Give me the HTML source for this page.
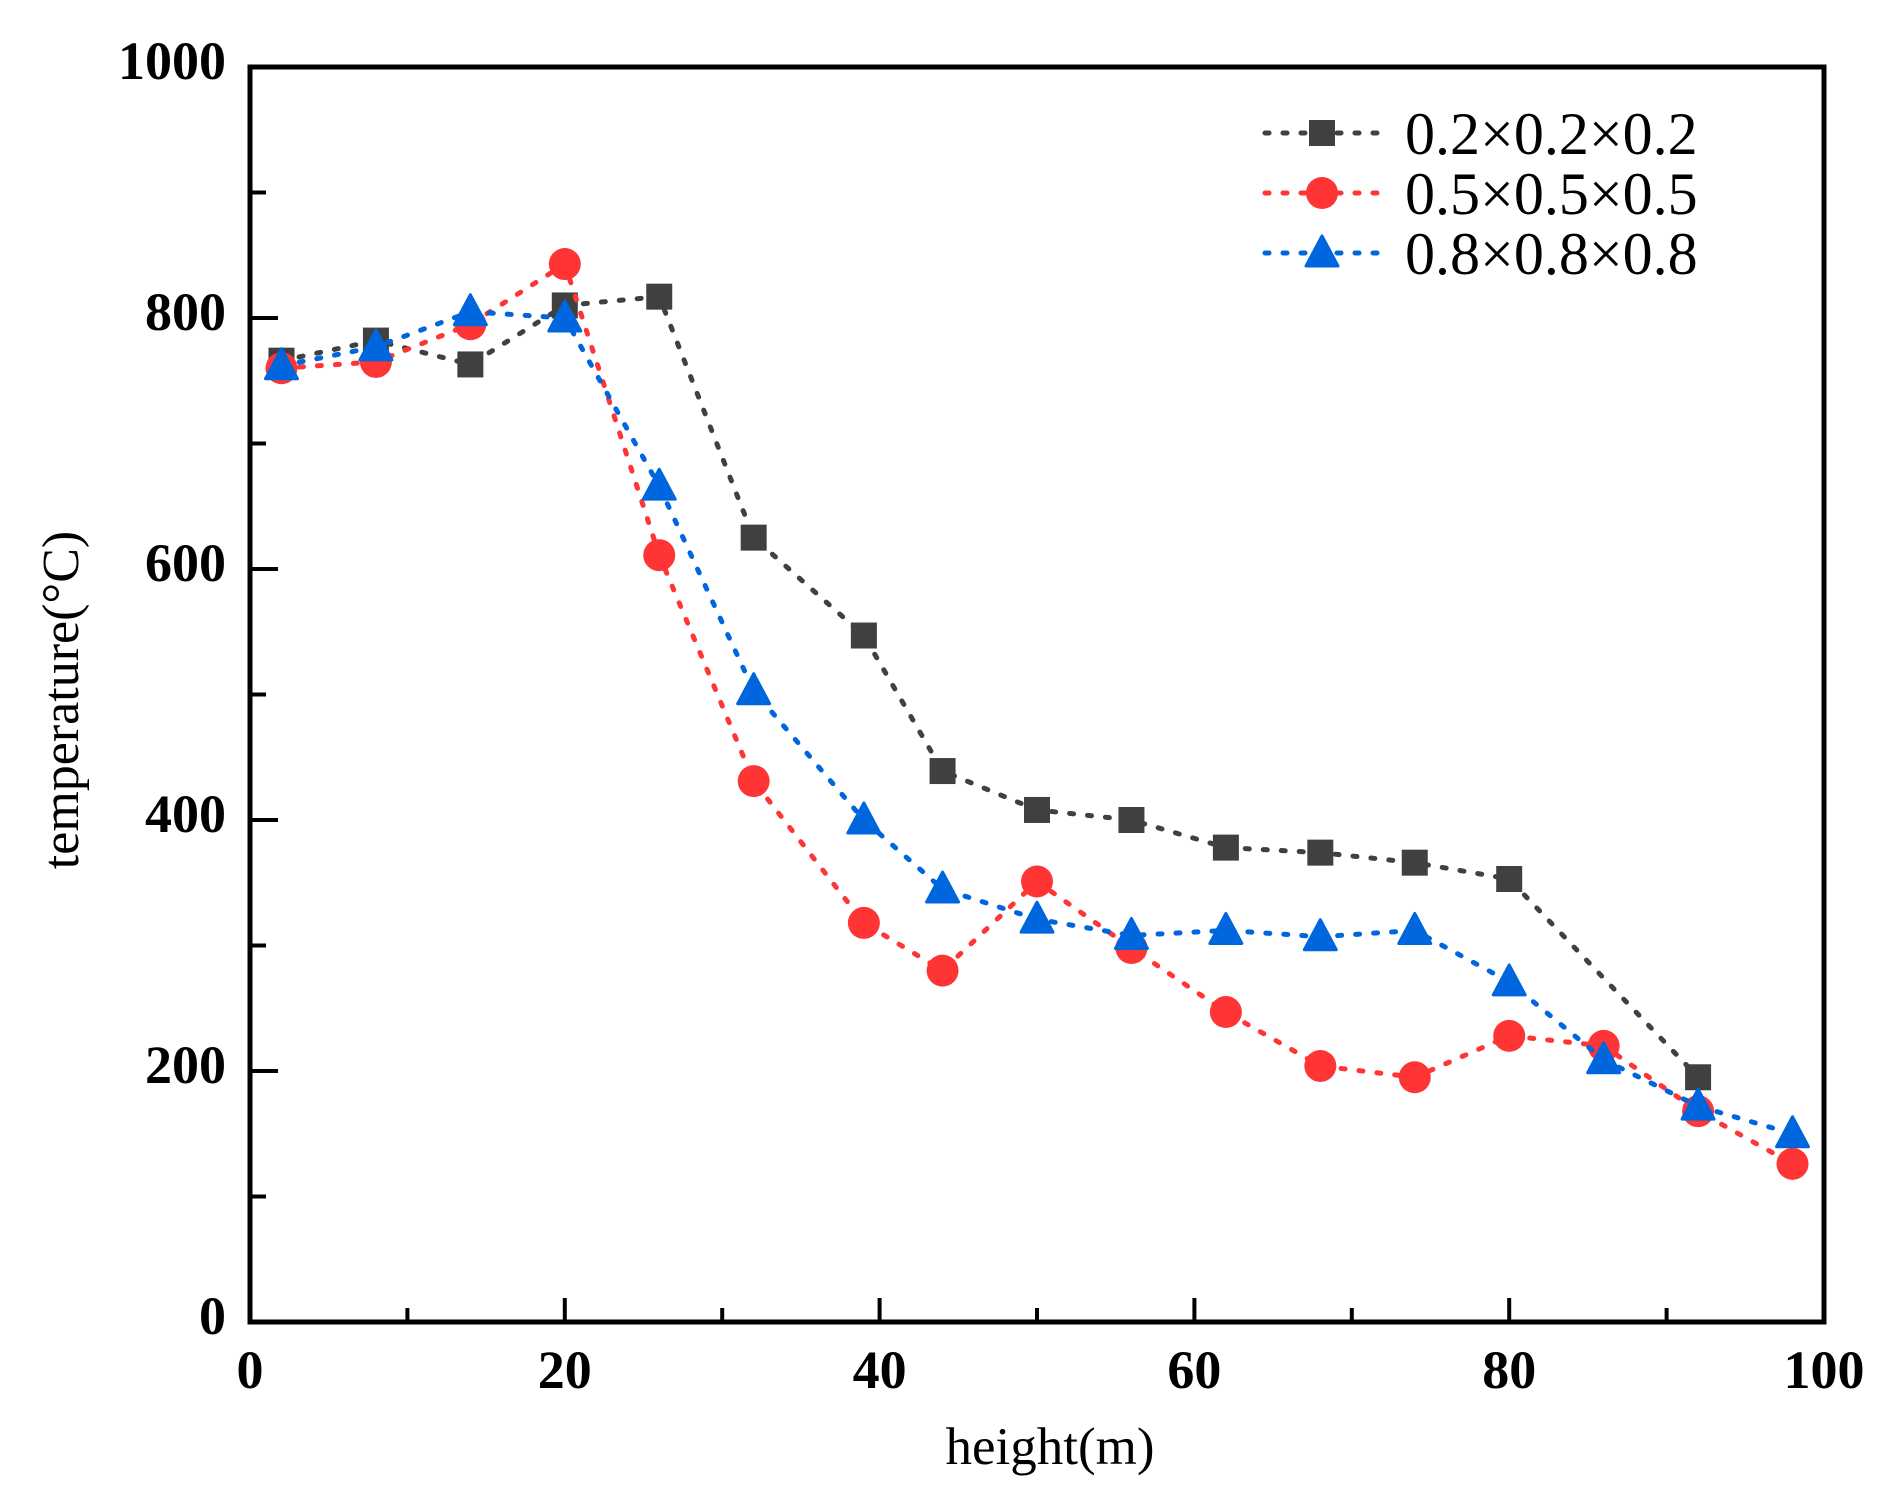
<!DOCTYPE html>
<html><head><meta charset="utf-8"><style>
html,body{margin:0;padding:0;background:#fff;}
svg{display:block;}
</style></head><body>
<svg id="chart" width="1886" height="1502" viewBox="0 0 1886 1502" xmlns="http://www.w3.org/2000/svg"></svg>
<script>
const xTicks = [0, 20, 40, 60, 80, 100];
const yTicks = [0, 200, 400, 600, 800, 1000];
const seriesNames = ["0.2×0.2×0.2", "0.5×0.5×0.5", "0.8×0.8×0.8"];
const blackX = [2, 8, 14, 20, 26, 32, 39, 44, 50, 56, 62, 68, 74, 80, 92];
const blackY = [766, 782, 763, 810, 817, 625, 547, 439, 408, 400, 378, 374, 366, 353, 195];
const redX = [2, 8, 14, 20, 26, 32, 39, 44, 50, 56, 62, 68, 74, 80, 86, 92, 98];
const redY = [760, 765, 795, 843, 611, 431, 318, 280, 351, 298, 247, 204, 195, 228, 220, 168, 126];
const blueX = [2, 8, 14, 20, 26, 32, 39, 44, 50, 56, 62, 68, 74, 80, 86, 92, 98];
const blueY = [762, 777, 805, 800, 666, 503, 400, 345, 321, 308, 312, 307, 312, 271, 209, 172, 150];

const NS = "http://www.w3.org/2000/svg";
const svg = document.getElementById('chart');
const L = 250, R = 1824, T = 67, B = 1322;
const sx = v => L + (v - 0) / 100 * (R - L);
const sy = v => B - v / 1000 * (B - T);
function mk(tag, attrs, parent) {
  const e = document.createElementNS(NS, tag);
  for (const k in attrs) e.setAttribute(k, attrs[k]);
  (parent || svg).appendChild(e);
  return e;
}
const frame = mk('rect', {x: L, y: T, width: R - L, height: B - T, fill: 'none', stroke: '#000', 'stroke-width': 5});


for (let v = 0; v <= 100; v += 10) {
  const len = v % 20 === 0 ? 24 : 14;
  const t = mk('line', {x1: sx(v), x2: sx(v), y1: B, y2: B - len, stroke: '#000', 'stroke-width': 4});
  
  
}
for (let v = 0; v <= 1000; v += 100) {
  const len = v % 200 === 0 ? 28 : 16;
  const t = mk('line', {x1: L, x2: L + len, y1: sy(v), y2: sy(v), stroke: '#000', 'stroke-width': 4});
  
  
}
xTicks.forEach(v => {
  const t = mk('text', {x: sx(v), y: 1388, 'text-anchor': 'middle', 'font-family': 'Liberation Serif, serif', 'font-weight': 'bold', 'font-size': 54, fill: '#000'});
  t.textContent = v;
  
  
});
yTicks.forEach(v => {
  const t = mk('text', {x: 226, y: sy(v) + 12, 'text-anchor': 'end', 'font-family': 'Liberation Serif, serif', 'font-weight': 'bold', 'font-size': 54, fill: '#000'});
  t.textContent = v;
  
  
});
const xt = mk('text', {x: 1050, y: 1464, 'text-anchor': 'middle', 'font-family': 'Liberation Serif, serif', 'font-size': 53, fill: '#000'});
xt.textContent = 'height(m)';


const yt = mk('text', {x: 0, y: 0, 'text-anchor': 'middle', transform: 'translate(78,700) rotate(-90)', 'font-family': 'Liberation Serif, serif', 'font-size': 52, fill: '#000'});
yt.textContent = 'temperature(°C)';



function marker(type, x, y, color, parent) {
  let e;
  if (type === 'square') e = mk('rect', {x: x - 13, y: y - 13, width: 26, height: 26, fill: color}, parent);
  else if (type === 'circle') e = mk('circle', {cx: x, cy: y, r: 16, fill: color}, parent);
  else e = mk('polygon', {points: `${x},${y-17} ${x+16},${y+13} ${x-16},${y+13}`, fill: color, stroke: color, 'stroke-width': 3, 'stroke-linejoin': 'round'}, parent);
  return e;
}
const series = [
  {xs: blackX, ys: blackY, color: '#404040', type: 'square', name: 'series-0-2'},
  {xs: redX, ys: redY, color: '#ff3535', type: 'circle', name: 'series-0-5'},
  {xs: blueX, ys: blueY, color: '#0066dd', type: 'triangle', name: 'series-0-8'}
];
series.forEach((s, si) => {
  const g = mk('g', {});
  
  
  const pts = s.xs.map((x, i) => sx(x) + ',' + sy(s.ys[i])).join(' ');
  const pl = mk('polyline', {points: pts, fill: 'none', stroke: s.color, 'stroke-width': 5, 'stroke-dasharray': '4 14', 'stroke-linecap': 'round'}, g);
  
  
  s.xs.forEach((x, i) => {
    const m = marker(s.type, sx(x), sy(s.ys[i]), s.color, g);
    
    
  });
  const ly = 133 + si * 60;
  const lg = mk('g', {});
  
  
  const ll = mk('line', {x1: 1265, x2: 1380, y1: ly, y2: ly, stroke: s.color, 'stroke-width': 5, 'stroke-dasharray': '4 14', 'stroke-linecap': 'round'}, lg);
  
  
  const lm = marker(s.type, 1322, ly, s.color, lg);
  
  
  const lt = mk('text', {x: 1405, y: ly + 21, 'font-family': 'Liberation Serif, serif', 'font-size': 60, fill: '#000'}, lg);
  lt.textContent = seriesNames[si];
  
  
});
</script>
</body></html>
